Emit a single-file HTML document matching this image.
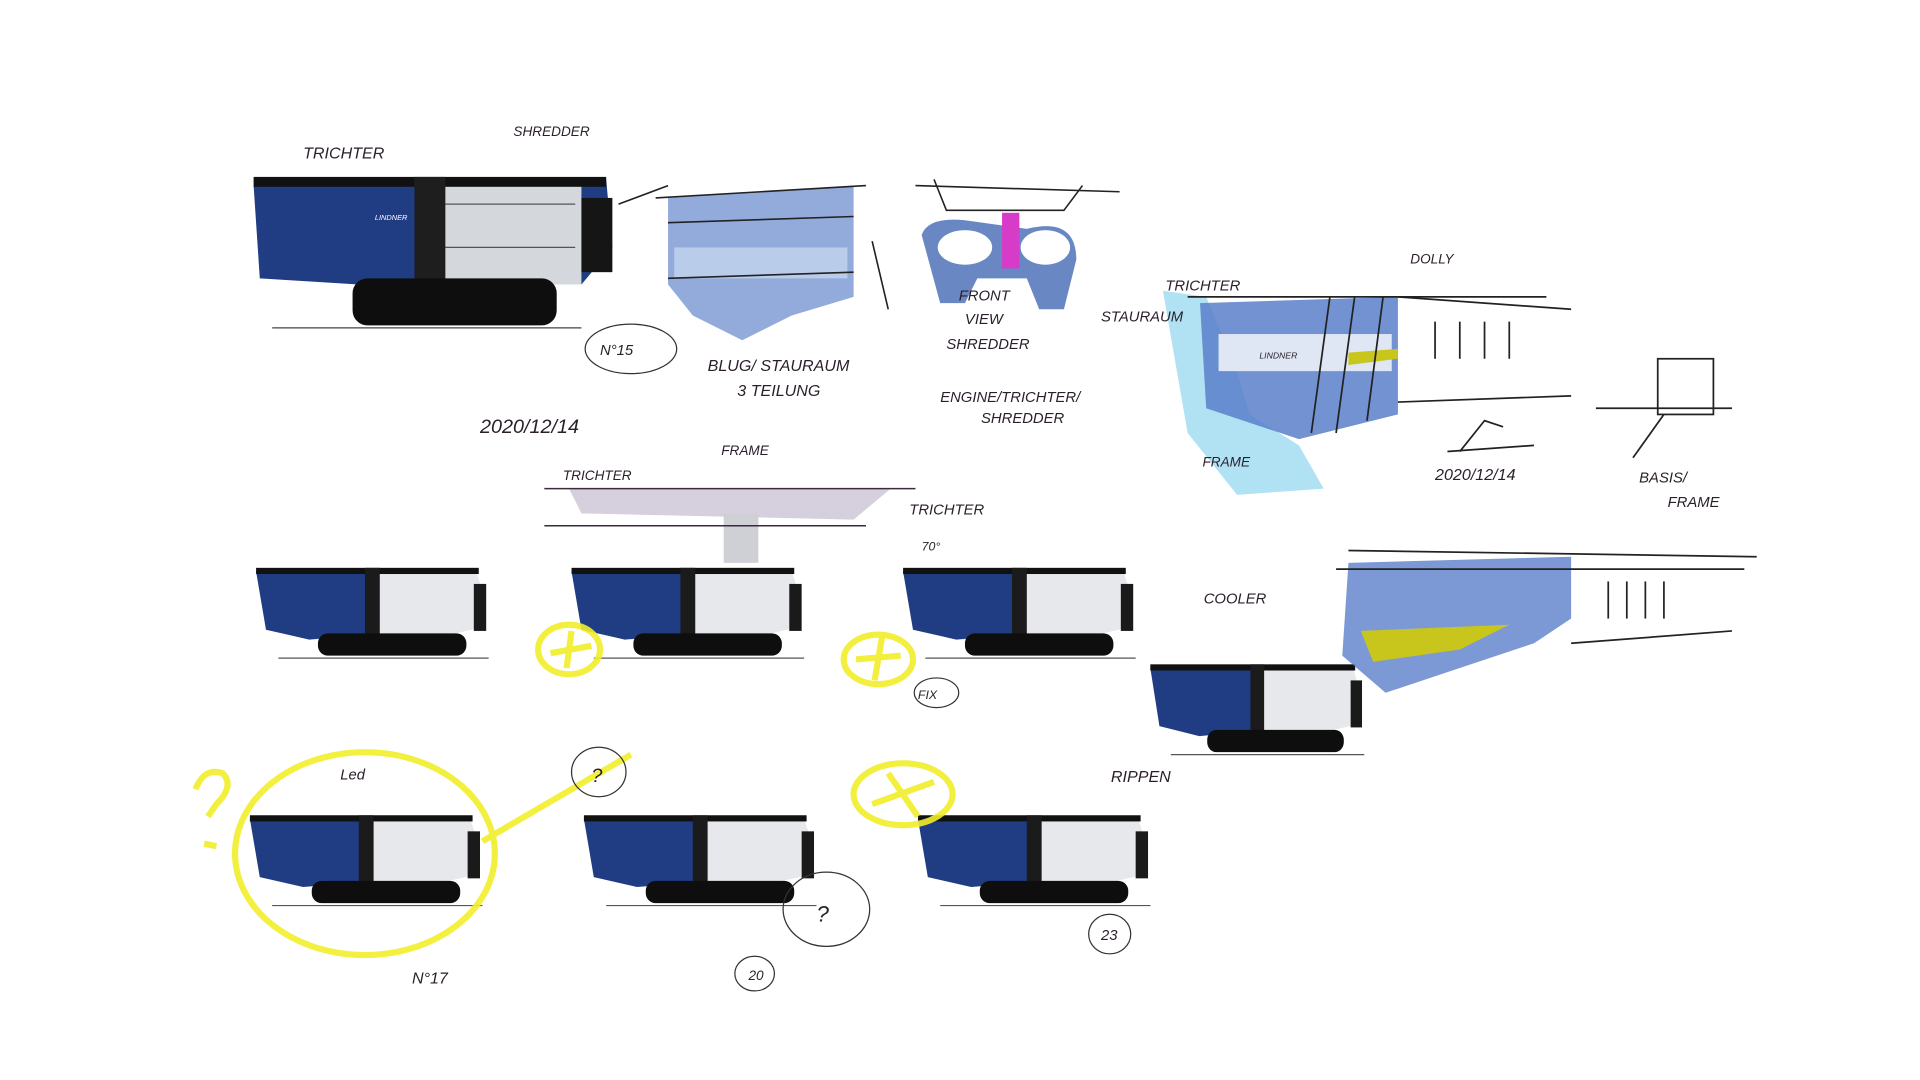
<!DOCTYPE html>
<html><head><meta charset="utf-8"><style>
html,body{margin:0;padding:0;background:#fff;width:1920px;height:1080px;overflow:hidden}
svg{display:block}
text{font-family:"Liberation Sans",sans-serif;fill:#2a1f2a;font-style:italic}
</style></head><body>
<svg width="1920" height="1080" viewBox="0 0 1552 873" preserveAspectRatio="none">
<defs>
<g id="m">
 <polygon points="2,5 180,5 185,20 185,50 150,58 45,60 10,50" fill="#e6e8ec"/>
 <polygon points="2,5 100,5 100,55 45,60 10,52" fill="#203d84"/>
 <rect x="2" y="2" width="180" height="5" fill="#111"/>
 <rect x="90" y="2" width="12" height="55" fill="#1b1b1b"/>
 <rect x="178" y="15" width="10" height="38" fill="#1a1a1a"/>
 <rect x="52" y="55" width="120" height="18" rx="8" fill="#0e0e0e"/>
 <line x1="20" y1="75" x2="190" y2="75" stroke="#555" stroke-width="1"/>
</g>
</defs>

<polygon points="205,150 490,145 495,200 470,230 290,230 210,225" fill="#203d84"/>
<polygon points="355,148 470,148 470,230 360,230" fill="#d4d7dc"/>
<g stroke="#555" stroke-width="1">
<line x1="360" y1="165" x2="465" y2="165"/><line x1="360" y1="200" x2="465" y2="200"/>
</g>
<rect x="205" y="143" width="285" height="8" fill="#111"/>
<rect x="335" y="143" width="25" height="90" fill="#1e1e1e"/>
<rect x="470" y="160" width="25" height="60" fill="#151515"/>
<rect x="285" y="225" width="165" height="38" rx="12" fill="#0e0e0e"/>
<line x1="220" y1="265" x2="470" y2="265" stroke="#444"/>
<text x="303" y="178" font-size="6" style="fill:#fff">LINDNER</text>

<polygon points="540,160 690,150 690,240 640,255 600,275 560,255 540,230" fill="#6f8fcf" opacity=".75"/>
<rect x="545" y="200" width="140" height="25" fill="#b9cdea"/>
<g stroke="#222" stroke-width="1.3" fill="none">
<line x1="530" y1="160" x2="700" y2="150"/><line x1="540" y1="180" x2="690" y2="175"/><line x1="540" y1="225" x2="690" y2="220"/><line x1="705" y1="195" x2="718" y2="250"/>
<line x1="500" y1="165" x2="540" y2="150"/>
</g>
<path d="M745,190 Q750,175 780,178 L830,185 Q870,175 870,210 L860,250 L840,250 L830,225 L790,225 L780,245 L760,245 Z" fill="#4f72b8" opacity=".85"/>
<ellipse cx="780" cy="200" rx="22" ry="14" fill="#fff"/><ellipse cx="845" cy="200" rx="20" ry="14" fill="#fff"/>
<rect x="810" y="172" width="14" height="45" fill="#d63cc8"/>
<g stroke="#222" stroke-width="1.3" fill="none"><path d="M755,145 L765,170 L860,170 L875,150"/><line x1="740" y1="150" x2="905" y2="155"/></g>

<polygon points="940,235 975,240 1000,300 1010,335 1050,360 1070,395 1000,400 960,350" fill="#8fd6ef" opacity=".7"/>
<polygon points="970,245 1130,240 1130,335 1050,355 975,330" fill="#5b7fca" opacity=".85"/>
<rect x="985" y="270" width="140" height="30" fill="#dfe6f4"/>
<polygon points="1090,285 1130,282 1130,290 1090,295" fill="#c8c51c"/>
<g stroke="#222" stroke-width="1.4" fill="none">
<line x1="960" y1="240" x2="1250" y2="240"/><line x1="1130" y1="240" x2="1270" y2="250"/><line x1="1130" y1="325" x2="1270" y2="320"/>
<line x1="1160" y1="260" x2="1160" y2="290"/><line x1="1180" y1="260" x2="1180" y2="290"/><line x1="1200" y1="260" x2="1200" y2="290"/><line x1="1220" y1="260" x2="1220" y2="290"/>
<line x1="1075" y1="240" x2="1060" y2="350"/><line x1="1095" y1="240" x2="1080" y2="350"/><line x1="1118" y1="240" x2="1105" y2="340"/>
<path d="M1180,365 L1200,340 L1215,345 M1170,365 L1240,360"/>
<rect x="1340" y="290" width="45" height="45"/><line x1="1290" y1="330" x2="1400" y2="330"/><line x1="1320" y1="370" x2="1345" y2="335"/>
</g>

<polygon points="460,395 720,395 690,420 470,415" fill="#ccc4d6" opacity=".8"/>
<rect x="585" y="415" width="28" height="40" fill="#cfcfd6"/>
<g stroke="#3a2a3a" stroke-width="1.2"><line x1="440" y1="395" x2="740" y2="395"/><line x1="440" y1="425" x2="700" y2="425"/></g>

<use href="#m" transform="translate(205,457)"/>
<use href="#m" transform="translate(460,457)"/>
<use href="#m" transform="translate(728,457)"/>
<use href="#m" transform="translate(928,535) scale(0.92,1)"/>
<use href="#m" transform="translate(200,657)"/>
<use href="#m" transform="translate(470,657)"/>
<use href="#m" transform="translate(740,657)"/>

<polygon points="1090,455 1270,450 1270,500 1240,520 1180,540 1120,560 1085,530" fill="#5b7fca" opacity=".8"/>
<polygon points="1100,510 1220,505 1180,525 1110,535" fill="#c8c51c"/>
<g stroke="#222" stroke-width="1.4" fill="none">
<line x1="1090" y1="445" x2="1420" y2="450"/><line x1="1080" y1="460" x2="1410" y2="460"/><line x1="1270" y1="520" x2="1400" y2="510"/>
<line x1="1300" y1="470" x2="1300" y2="500"/><line x1="1315" y1="470" x2="1315" y2="500"/><line x1="1330" y1="470" x2="1330" y2="500"/><line x1="1345" y1="470" x2="1345" y2="500"/>
</g>

<g stroke="#f2ee2a" stroke-width="5" fill="none" opacity=".9">
<ellipse cx="460" cy="525" rx="25" ry="20"/><line x1="445" y1="528" x2="478" y2="522"/><line x1="462" y1="510" x2="458" y2="540"/>
<ellipse cx="710" cy="533" rx="28" ry="20"/><line x1="692" y1="533" x2="728" y2="530"/><line x1="713" y1="515" x2="707" y2="550"/>
<ellipse cx="295" cy="690" rx="105" ry="82"/>
<path d="M390,680 L510,610"/>
<ellipse cx="730" cy="642" rx="40" ry="25"/><line x1="705" y1="650" x2="755" y2="632"/><line x1="718" y1="625" x2="742" y2="660"/>
<path d="M158,638 Q165,620 180,625 Q190,635 175,650 L168,660"/><line x1="165" y1="682" x2="175" y2="684"/>
</g>
<g stroke="#333" stroke-width="1" fill="none">
<ellipse cx="510" cy="282" rx="37" ry="20"/><ellipse cx="484" cy="624" rx="22" ry="20"/>
<ellipse cx="668" cy="735" rx="35" ry="30"/><ellipse cx="610" cy="787" rx="16" ry="14"/>
<ellipse cx="897" cy="755" rx="17" ry="16"/><ellipse cx="757" cy="560" rx="18" ry="12"/>
</g>

<g font-size="13">
<text x="245" y="128">TRICHTER</text>
<text x="415" y="110" font-size="11">SHREDDER</text>
<text x="485" y="287" font-size="12">N°15</text>
<text x="572" y="300">BLUG/ STAURAUM</text>
<text x="596" y="320">3 TEILUNG</text>
<text x="388" y="350" font-size="16">2020/12/14</text>
<text x="775" y="243" font-size="12">FRONT</text>
<text x="780" y="262" font-size="12">VIEW</text>
<text x="765" y="282" font-size="12">SHREDDER</text>
<text x="760" y="325" font-size="12">ENGINE/TRICHTER/</text>
<text x="793" y="342" font-size="12">SHREDDER</text>
<text x="890" y="260" font-size="12">STAURAUM</text>
<text x="942" y="235" font-size="12">TRICHTER</text>
<text x="1140" y="213" font-size="11">DOLLY</text>
<text x="1018" y="290" font-size="7">LINDNER</text>
<text x="972" y="377" font-size="11">FRAME</text>
<text x="1160" y="388" font-size="13">2020/12/14</text>
<text x="1325" y="390" font-size="12">BASIS/</text>
<text x="1348" y="410" font-size="12">FRAME</text>
<text x="455" y="388" font-size="11">TRICHTER</text>
<text x="583" y="368" font-size="11">FRAME</text>
<text x="735" y="416" font-size="12">TRICHTER</text>
<text x="745" y="445" font-size="10">70°</text>
<text x="742" y="565" font-size="10">FIX</text>
<text x="973" y="488" font-size="12">COOLER</text>
<text x="275" y="630" font-size="12">Led</text>
<text x="898" y="632" font-size="13">RIPPEN</text>
<text x="333" y="795" font-size="13">N°17</text>
<text x="605" y="792" font-size="11">20</text>
<text x="890" y="760" font-size="12">23</text>
<text x="478" y="632" font-size="16">?</text>
<text x="660" y="745" font-size="18">?</text>
</g>
</svg>
</body></html>
